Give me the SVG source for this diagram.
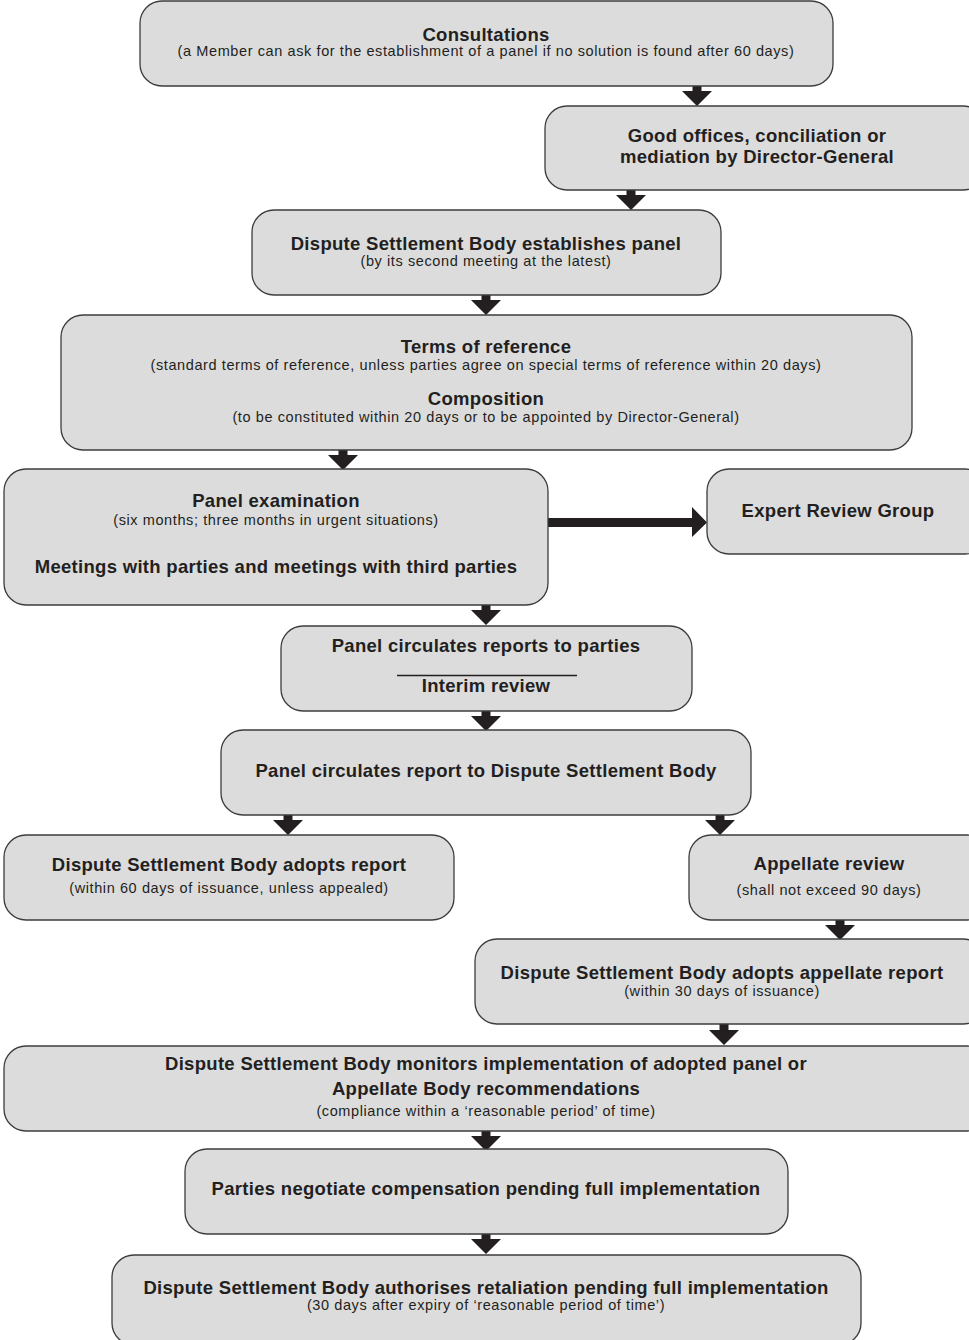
<svg xmlns="http://www.w3.org/2000/svg" width="969" height="1340" viewBox="0 0 969 1340">
<defs>
<style>
.box{fill:#dcdcdd;stroke:#3c3c3c;stroke-width:1.3}
.t{font-family:"Liberation Sans",Arial,sans-serif;font-weight:bold;font-size:18.5px;letter-spacing:0.3px;fill:#231f20;text-anchor:middle}
.s{font-family:"Liberation Sans",Arial,sans-serif;font-size:14.5px;letter-spacing:0.6px;fill:#231f20;text-anchor:middle}
.arr{fill:#231f20}
</style>
<symbol id="down" overflow="visible"><path d="M-4.5,-1 H4.5 V5 H15 L0,20 L-15,5 H-4.5 Z"/></symbol>
</defs>
<rect width="969" height="1340" fill="#ffffff"/>
<g id="connectors" class="arr">
<use href="#down" x="697" y="86"/>
<use href="#down" x="631" y="190"/>
<use href="#down" x="486" y="295"/>
<use href="#down" x="343" y="450"/>
<use href="#down" x="486" y="605"/>
<use href="#down" x="486" y="711"/>
<use href="#down" x="288" y="815"/>
<use href="#down" x="720" y="815"/>
<use href="#down" x="840" y="920"/>
<use href="#down" x="724" y="1025"/>
<use href="#down" x="486" y="1131"/>
<use href="#down" x="486" y="1234"/>
<path d="M548,518 H692 V507 L707,522.5 L692,537 V527 H548 Z"/>
</g>
<g id="n1"><rect class="box" x="140" y="1" width="693" height="85" rx="22"/>
<text class="t" x="486" y="41">Consultations</text>
<text class="s" x="486" y="56">(a Member can ask for the establishment of a panel if no solution is found after 60 days)</text></g>
<g id="n2"><rect class="box" x="545" y="106" width="440" height="84" rx="22"/>
<text class="t" x="757" y="142">Good offices, conciliation or</text>
<text class="t" x="757" y="163">mediation by Director-General</text></g>
<g id="n3"><rect class="box" x="252" y="210" width="469" height="85" rx="22"/>
<text class="t" x="486" y="250">Dispute Settlement Body establishes panel</text>
<text class="s" x="486" y="266">(by its second meeting at the latest)</text></g>
<g id="n4"><rect class="box" x="61" y="315" width="851" height="135" rx="22"/>
<text class="t" x="486" y="353">Terms of reference</text>
<text class="s" x="486" y="370">(standard terms of reference, unless parties agree on special terms of reference within 20 days)</text>
<text class="t" x="486" y="405">Composition</text>
<text class="s" x="486" y="422">(to be constituted within 20 days or to be appointed by Director-General)</text></g>
<g id="n5"><rect class="box" x="4" y="469" width="544" height="136" rx="22"/>
<text class="t" x="276" y="507">Panel examination</text>
<text class="s" x="276" y="525">(six months; three months in urgent situations)</text>
<text class="t" x="276" y="573">Meetings with parties and meetings with third parties</text></g>
<g id="n6"><rect class="box" x="707" y="469" width="280" height="85" rx="22"/>
<text class="t" x="838" y="517">Expert Review Group</text></g>
<g id="n7"><rect class="box" x="281" y="626" width="411" height="85" rx="22"/>
<text class="t" x="486" y="652">Panel circulates reports to parties</text>
<line x1="397" y1="675.5" x2="577" y2="675.5" stroke="#231f20" stroke-width="1.3"/>
<text class="t" x="486" y="692">Interim review</text></g>
<g id="n8"><rect class="box" x="221" y="730" width="530" height="85" rx="22"/>
<text class="t" x="486" y="777">Panel circulates report to Dispute Settlement Body</text></g>
<g id="n9"><rect class="box" x="4" y="835" width="450" height="85" rx="22"/>
<text class="t" x="229" y="871">Dispute Settlement Body adopts report</text>
<text class="s" x="229" y="893">(within 60 days of issuance, unless appealed)</text></g>
<g id="n10"><rect class="box" x="689" y="835" width="300" height="85" rx="22"/>
<text class="t" x="829" y="870">Appellate review</text>
<text class="s" x="829" y="895">(shall not exceed 90 days)</text></g>
<g id="n11"><rect class="box" x="475" y="939" width="510" height="85" rx="22"/>
<text class="t" x="722" y="979">Dispute Settlement Body adopts appellate report</text>
<text class="s" x="722" y="996">(within 30 days of issuance)</text></g>
<g id="n12"><rect class="box" x="4" y="1046" width="985" height="85" rx="22"/>
<text class="t" x="486" y="1070">Dispute Settlement Body monitors implementation of adopted panel or</text>
<text class="t" x="486" y="1095">Appellate Body recommendations</text>
<text class="s" x="486" y="1116">(compliance within a ‘reasonable period’ of time)</text></g>
<g id="n13"><rect class="box" x="185" y="1149" width="603" height="85" rx="22"/>
<text class="t" x="486" y="1195">Parties negotiate compensation pending full implementation</text></g>
<g id="n14"><rect class="box" x="112" y="1255" width="749" height="90" rx="22"/>
<text class="t" x="486" y="1294">Dispute Settlement Body authorises retaliation pending full implementation</text>
<text class="s" x="486" y="1310">(30 days after expiry of ‘reasonable period of time’)</text></g>
</svg>
